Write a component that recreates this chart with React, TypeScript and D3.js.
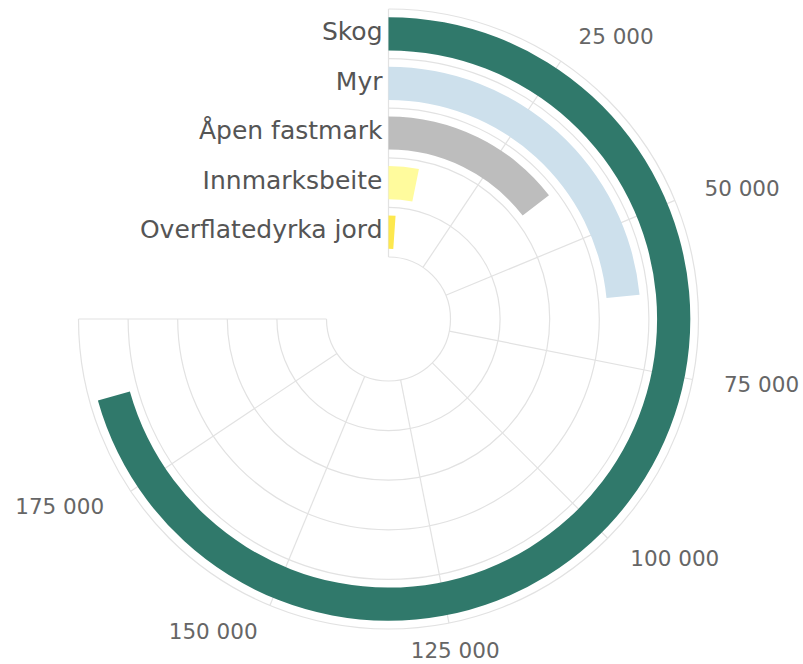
import { useRef, useEffect } from "react";
import * as d3 from "d3";

const categories = ["Skog", "Myr", "Åpen fastmark", "Innmarksbeite", "Overflatedyrka jord"];
const values = [188400, 62600, 38800, 8500, 2900];
const colors = ["#30796b", "#cde0ec", "#bdbdbd", "#fffb9d", "#fde84e"];
const ticks = [0, 25000, 50000, 75000, 100000, 125000, 150000, 175000, 200000];
const tickLabels = ["", "25 000", "50 000", "75 000", "100 000", "125 000", "150 000", "175 000", ""];

export default function App() {
  const width = 803;
  const height = 664;
  const cx = 388.5;
  const cy = 319;
  const inner = 62;
  const outer = 310;
  const root = useRef<SVGSVGElement>(null);

  useEffect(() => {
    const svg = d3.select(root.current);
    svg.selectAll("*").remove();
    const g = svg.append("g").attr("transform", "translate(" + cx + "," + cy + ")");

    const angle = d3.scaleLinear([0, 200000], [0, Math.PI * 1.5]);
    // innermost category first
    const order = categories.slice().reverse();
    const band = d3.scaleBand(order, [inner, outer]);
    const bar = d3.scaleBand(order, [inner, outer]).paddingInner(0.33).paddingOuter(0.165);
    const font = "Verdana, 'DejaVu Sans', sans-serif";
    const gridColor = "#e2e2e2";

    // concentric grid
    const radii = order.map(c => band(c) as number).concat([outer]);
    radii.forEach(r => {
      const p = d3.path();
      p.moveTo(0, -r);
      p.arc(0, 0, r, -Math.PI / 2, Math.PI);
      g.append("path")
        .attr("d", p.toString())
        .attr("fill", "none")
        .attr("stroke", gridColor)
        .attr("stroke-width", 1.2);
    });

    // spokes
    g.selectAll(".spoke")
      .data(ticks)
      .enter()
      .append("line")
      .attr("x1", d => inner * Math.sin(angle(d)))
      .attr("y1", d => -inner * Math.cos(angle(d)))
      .attr("x2", d => outer * Math.sin(angle(d)))
      .attr("y2", d => -outer * Math.cos(angle(d)))
      .attr("stroke", gridColor)
      .attr("stroke-width", 1.2);

    // bars
    const arc = d3.arc<number>()
      .innerRadius(i => bar(categories[i]) as number)
      .outerRadius(i => (bar(categories[i]) as number) + bar.bandwidth())
      .startAngle(0)
      .endAngle(i => angle(values[i]));

    g.selectAll(".bar")
      .data(categories.map((_, i) => i))
      .enter()
      .append("path")
      .attr("d", d => arc(d) as string)
      .attr("fill", d => colors[d]);

    // value axis labels
    const labelR = 342;
    g.selectAll(".tick")
      .data(ticks.map((t, i) => i).filter(i => tickLabels[i] !== ""))
      .enter()
      .append("text")
      .attr("x", i => labelR * Math.sin(angle(ticks[i])))
      .attr("y", i => -labelR * Math.cos(angle(ticks[i])) + 7 + 3 * Math.cos(angle(ticks[i])))
      .attr("text-anchor", i => {
        const deg = angle(ticks[i]) * 180 / Math.PI;
        if (deg < 15 || deg > 345) return "middle";
        if (deg < 165) return "start";
        if (deg < 195) return "middle";
        return "end";
      })
      .attr("font-family", font)
      .attr("font-size", 21.5)
      .attr("fill", "#666666")
      .text(i => tickLabels[i]);

    // category labels
    g.selectAll(".cat")
      .data(categories)
      .enter()
      .append("text")
      .attr("x", -6)
      .attr("y", d => -((band(d) as number) + band.bandwidth() / 2))
      .attr("dy", "0.25em")
      .attr("text-anchor", "end")
      .attr("font-family", font)
      .attr("font-size", 25)
      .attr("fill", "#555555")
      .text(d => d);
  }, []);

  return (
    <svg
      ref={root}
      width={width}
      height={height}
      style={{ position: "absolute", left: 0, top: 0, background: "#ffffff" }}
    />
  );
}
